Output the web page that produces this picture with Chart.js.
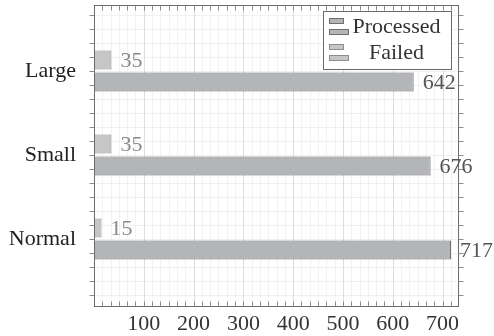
<!DOCTYPE html>
<html>
<head>
<meta charset="utf-8">
<script src="https://cdn.jsdelivr.net/npm/chart.js@4/dist/chart.umd.min.js"></script>
<style>
  html, body { margin: 0; padding: 0; background: #fff; }
  #wrap { width: 494px; height: 336px; }
</style>
</head>
<body>
<div id="wrap"><canvas id="c"></canvas></div>
<script>
// data, bottom to top as pgfplots lays it out
const categories = ['Normal', 'Small', 'Large'];
const processed = [717, 676, 642];
const failed = [15, 35, 35];
const xTickLabels = [100, 200, 300, 400, 500, 600, 700];

const FONT = "'Liberation Serif', 'DejaVu Serif', serif";
const minorStep = 100 / 6;

const toPoints = (vals) => vals.map((v, i) => ({ x: v, y: i }));

// grid, frame and the little tick marks, all from the scales
const framePlugin = {
    id: 'frame',
    beforeDatasetsDraw(chart) {
        const { ctx, chartArea: a, scales: { x, y } } = chart;
        ctx.save();
        ctx.lineWidth = 1;
        // horizontal minor grid
        ctx.strokeStyle = '#f0f0f0';
        for (let k = -6; k <= 18; k++) {
            const v = k / 6;
            if (v <= y.min || v >= y.max) continue;
            const py = Math.round(y.getPixelForValue(v)) + 0.5;
            ctx.beginPath(); ctx.moveTo(a.left, py); ctx.lineTo(a.right, py); ctx.stroke();
        }
        // vertical grid, darker every 100
        for (let k = 1; k * minorStep < x.max; k++) {
            const px = Math.round(x.getPixelForValue(k * minorStep)) + 0.5;
            ctx.strokeStyle = k % 6 === 0 ? '#dcdcdc' : '#f2f2f2';
            ctx.beginPath(); ctx.moveTo(px, a.top); ctx.lineTo(px, a.bottom); ctx.stroke();
        }
        ctx.restore();
    },
    afterDatasetsDraw(chart) {
        const { ctx, chartArea: a, scales: { x, y } } = chart;
        ctx.save();
        ctx.strokeStyle = '#6a6a6a';
        ctx.lineWidth = 1;
        const L = Math.round(a.left) + 0.5, R = Math.round(a.right) + 0.5;
        const T = Math.round(a.top) + 0.5, B = Math.round(a.bottom) + 0.5;
        ctx.strokeRect(L, T, R - L, B - T);
        // x ticks point inward (bottom and top)
        ctx.strokeStyle = '#8a8a8a';
        for (let k = 1; k * minorStep < x.max; k++) {
            const px = Math.round(x.getPixelForValue(k * minorStep)) + 0.5;
            ctx.beginPath();
            ctx.moveTo(px, B); ctx.lineTo(px, B - 5);
            ctx.moveTo(px, T); ctx.lineTo(px, T + 5);
            ctx.stroke();
        }
        // y ticks point outward (left and right)
        for (let k = -6; k <= 18; k++) {
            const v = k / 6;
            if (v <= y.min || v >= y.max) continue;
            const py = Math.round(y.getPixelForValue(v)) + 0.5;
            ctx.beginPath();
            ctx.moveTo(L, py); ctx.lineTo(L - 5, py);
            ctx.moveTo(R, py); ctx.lineTo(R + 5, py);
            ctx.stroke();
        }
        ctx.restore();
    }
};

// numbers at the end of each bar
const valueLabels = {
    id: 'valueLabels',
    afterDatasetsDraw(chart) {
        const ctx = chart.ctx;
        ctx.save();
        ctx.font = '22px ' + FONT;
        ctx.textAlign = 'left';
        ctx.textBaseline = 'middle';
        chart.data.datasets.forEach((ds, di) => {
            const meta = chart.getDatasetMeta(di);
            ctx.fillStyle = ds.labelColor;
            meta.data.forEach((bar, i) => {
                ctx.fillText(String(ds.data[i].x), bar.x + 9, bar.y + 1);
            });
        });
        ctx.restore();
    }
};

// pgfplots-style legend box inside the top right corner
const boxLegend = {
    id: 'boxLegend',
    afterDraw(chart) {
        const { ctx, chartArea: a } = chart;
        const w = 128, h = 58;
        const left = Math.round(a.right - 7 - w) + 0.5, top = Math.round(a.top + 6) + 0.5;
        ctx.save();
        ctx.fillStyle = '#fff';
        ctx.fillRect(left, top, w, h);
        ctx.strokeStyle = '#6a6a6a';
        ctx.lineWidth = 1;
        ctx.strokeRect(left, top, w, h);

        // legend order: Processed, Failed
        const order = [1, 0];
        order.forEach((di, row) => {
            const ds = chart.data.datasets[di];
            const cy = top + 15 + row * 26;
            ctx.fillStyle = ds.backgroundColor;
            ctx.strokeStyle = ds.borderColor;
            ctx.fillRect(left + 6, cy - 8, 14, 5);
            ctx.strokeRect(left + 6, cy - 8, 14, 5);
            ctx.fillRect(left + 6, cy + 3, 19, 5);
            ctx.strokeRect(left + 6, cy + 3, 19, 5);
            ctx.fillStyle = '#333';
            ctx.font = '22px ' + FONT;
            ctx.textAlign = 'center';
            ctx.textBaseline = 'middle';
            ctx.fillText(ds.label, left + 73, cy + 1);
        });
        ctx.restore();
    }
};

new Chart(document.getElementById('c'), {
    type: 'bar',
    data: {
        datasets: [
            {
                label: 'Failed',
                data: toPoints(failed),
                backgroundColor: '#c6c6c6',
                borderColor: '#8e8e8e',
                labelColor: '#8a8a8a'
            },
            {
                label: 'Processed',
                data: toPoints(processed),
                backgroundColor: '#b4b5b8',
                borderColor: '#6e6e6e',
                labelColor: '#555'
            }
        ]
    },
    options: {
        indexAxis: 'y',
        responsive: true,
        maintainAspectRatio: false,
        animation: false,
        layout: { padding: { top: 5, right: 36, left: 0, bottom: 0 } },
        datasets: {
            bar: {
                borderWidth: 1,
                borderSkipped: false,
                categoryPercentage: 44 / 84,
                barPercentage: 19 / 22
            }
        },
        scales: {
            x: {
                type: 'linear',
                min: 0,
                max: 731,
                grid: { display: false },
                border: { display: false },
                afterBuildTicks: (scale) => {
                    scale.ticks = xTickLabels.map(v => ({ value: v }));
                },
                afterFit: (scale) => {
                    scale.height = 30;
                    scale.paddingLeft = 0;
                    scale.paddingRight = 0;
                },
                ticks: {
                    color: '#333',
                    padding: -3,
                    maxRotation: 0,
                    font: { family: FONT, size: 22 }
                }
            },
            y: {
                type: 'linear',
                offset: false,
                min: -0.798,
                max: 2.786,
                grid: { display: false, offset: false },
                border: { display: false },
                afterBuildTicks: (scale) => {
                    scale.ticks = categories.map((c, i) => ({ value: i }));
                },
                afterFit: (scale) => {
                    scale.width = 94;
                    scale.paddingTop = 0;
                    scale.paddingBottom = 0;
                },
                ticks: {
                    color: '#222',
                    padding: 10,
                    font: { family: FONT, size: 22 },
                    callback: (v) => categories[v]
                }
            }
        },
        plugins: {
            legend: { display: false },
            tooltip: { enabled: false }
        }
    },
    plugins: [framePlugin, valueLabels, boxLegend]
});
</script>
</body>
</html>
